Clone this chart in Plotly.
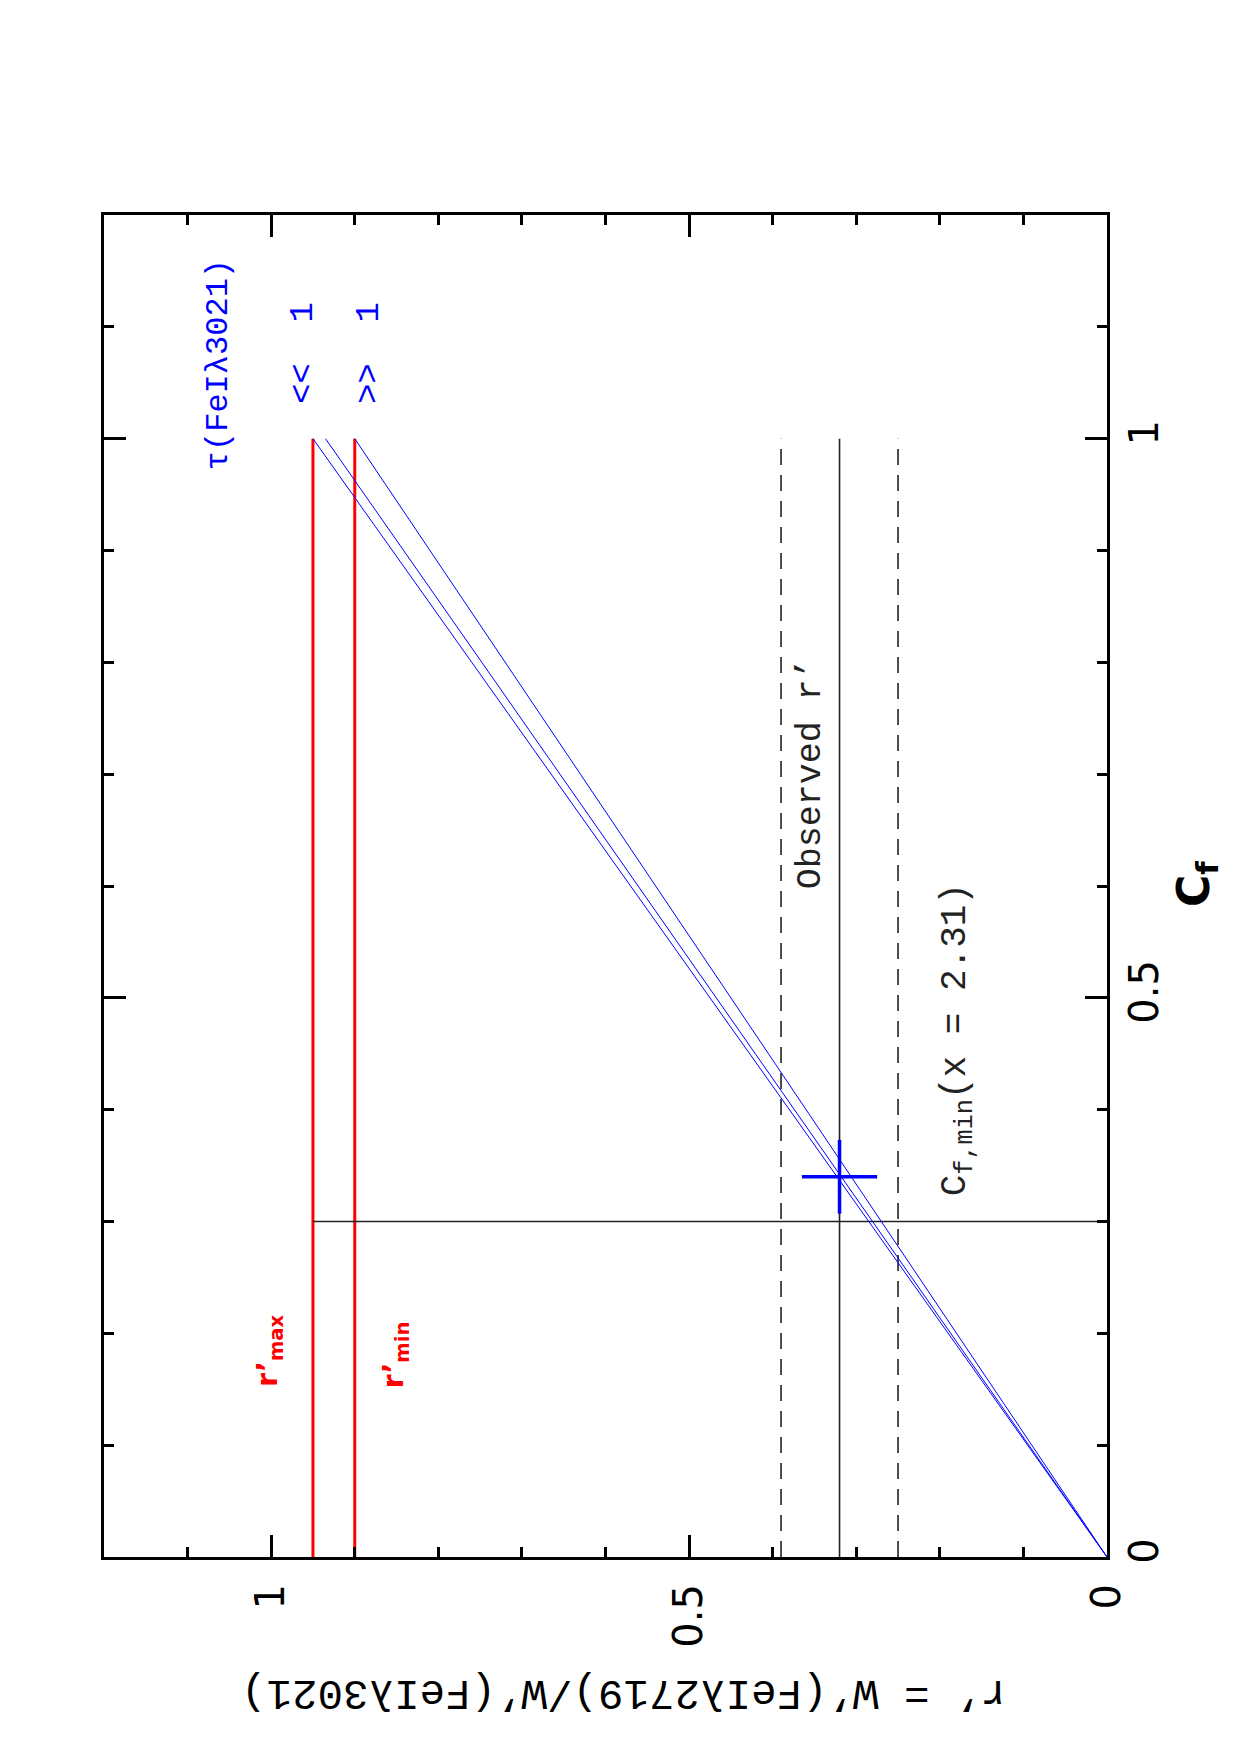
import plotly.graph_objects as go

# ---- data (x axis of the original plot: C_f ; y axis: r') ----
cf_span = [0.0, 1.0]          # C_f extent of the model / reference lines
r_max = 0.95                   # r'_max
r_min = 0.90                   # r'_min
r_obs = 0.32                   # observed r'
r_obs_lo = 0.25                # lower bound of observed r'
r_obs_hi = 0.39                # upper bound of observed r'
cf_min = 0.30                  # C_f,min (x = 2.31)
tau_end_r = [0.95, 0.935, 0.90]  # r' at C_f = 1 for the tau(FeI 3021) model lines
cross_cf, cross_cf_err = 0.34, 0.033
cross_r, cross_r_err = 0.32, 0.045

axis_range_cf = [0.0, 1.2]
axis_range_r = [1.2, 0.0]

MONO = "Liberation Mono"
SANS = "DejaVu Sans"

fig = go.Figure()

# red r'_max / r'_min lines
for rv in (r_max, r_min):
    fig.add_trace(go.Scatter(x=[rv, rv], y=cf_span, mode="lines",
                             line=dict(color="#ff0000", width=3), showlegend=False))

# observed r' and its bounds
fig.add_trace(go.Scatter(x=[r_obs, r_obs], y=cf_span, mode="lines",
                         line=dict(color="#222222", width=1.6), showlegend=False))
for rv in (r_obs_lo, r_obs_hi):
    fig.add_trace(go.Scatter(x=[rv, rv], y=cf_span, mode="lines",
                             line=dict(color="#222222", width=1.6, dash="16px,10px"),
                             showlegend=False))

# C_f,min line
fig.add_trace(go.Scatter(x=[r_max, 0.0], y=[cf_min, cf_min], mode="lines",
                         line=dict(color="#222222", width=1.6), showlegend=False))

# blue model lines
for rv in tau_end_r:
    fig.add_trace(go.Scatter(x=[0.0, rv], y=[0.0, 1.0], mode="lines",
                             line=dict(color="#0000ff", width=1), showlegend=False))

# blue cross
fig.add_trace(go.Scatter(
    x=[cross_r], y=[cross_cf], mode="markers",
    marker=dict(size=1, color="#0000ff"),
    error_x=dict(type="data", array=[cross_r_err], thickness=3.5, width=0, color="#0000ff"),
    error_y=dict(type="data", array=[cross_cf_err], thickness=3.5, width=0, color="#0000ff"),
    showlegend=False))

ann = []
def add_text(x, y, text, color, size, family=MONO, angle=-90, xref="x", yref="y"):
    ann.append(dict(x=x, y=y, xref=xref, yref=yref, text=text, showarrow=False,
                    textangle=angle, font=dict(color=color, size=size, family=family),
                    xanchor="center", yanchor="middle"))

add_text(1.062, 1.066, "τ(FeIλ3021)", "#0000ff", 32)
add_text(0.962, 1.0765, "<<\u00a0\u00a01", "#0000ff", 34)
add_text(0.883, 1.0765, ">>\u00a0\u00a01", "#0000ff", 34)
add_text(0.354, 0.70, "Observed r’", "#222222", 35)
add_text(0.179, 0.4624, "C<sub>f,min</sub>(x\u00a0=\u00a02.31)", "#222222", 36)
add_text(1.002, 0.184, "<b>r’<sub>max</sub></b>", "#ff0000", 28, family=SANS)
add_text(0.851, 0.181, "<b>r’<sub>min</sub></b>", "#ff0000", 28, family=SANS)
# axis titles
add_text(1.0897, 0.5015, "<b>C<sub>f</sub></b>", "#000000", 44, family=SANS,
         xref="paper", yref="paper")
add_text(0.518, -0.101, "r’ = W’(FeIλ2719)/W’(FeIλ3021)", "#000000", 42.5,
         angle=180, xref="paper", yref="paper")

axis_common = dict(
    showline=True, linewidth=3, linecolor="black", mirror="ticks",
    ticks="inside", ticklen=22, tickwidth=2.5, tickcolor="black",
    tickmode="linear", tick0=0, dtick=0.5, tickangle=-90,
    minor=dict(ticks="inside", ticklen=10, tickwidth=2.5, tickcolor="black",
               tick0=0, dtick=0.1, showgrid=False),
    showgrid=False, zeroline=False,
)

fig.update_layout(
    width=1240, height=1755,
    margin=dict(l=104, r=133, t=215, b=198, pad=0),
    paper_bgcolor="white", plot_bgcolor="white",
    xaxis=dict(range=axis_range_r, side="bottom", ticklabelstandoff=8,
               tickfont=dict(size=40, family=SANS, color="black"), **axis_common),
    yaxis=dict(range=axis_range_cf, side="right", ticklabelstandoff=0,
               tickfont=dict(size=40, family=SANS, color="black"), **axis_common),
    annotations=ann,
    showlegend=False,
)

fig.write_html("out.html")
